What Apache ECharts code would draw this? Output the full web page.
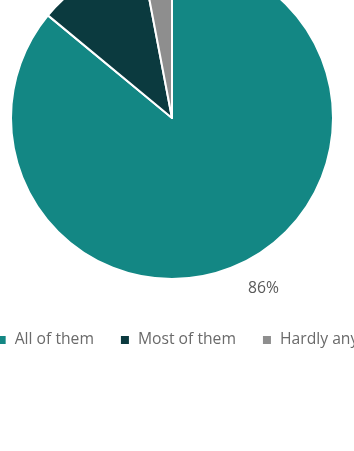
<!DOCTYPE html>
<html>
<head>
<meta charset="utf-8">
<script src="https://cdn.jsdelivr.net/npm/echarts@6/dist/echarts.min.js"></script>
<style>
  html, body { margin: 0; padding: 0; background: #ffffff; }
  #chart { width: 354px; height: 451px; }
</style>
</head>
<body>
<div id="chart"></div>
<script>
// Share of respondents by answer
const categories = ['All of them', 'Most of them', 'Hardly any'];
const shares = [86, 11, 3];
const colors = ['#138784', '#0b3a3f', '#8e8e8e'];

const chart = echarts.init(document.getElementById('chart'), null, { renderer: 'canvas' });

const pieData = categories.map((name, i) => ({
  name: name,
  value: shares[i],
  itemStyle: { color: colors[i] }
}));

chart.setOption({
  animation: false,
  textStyle: { fontFamily: 'Open Sans' },
  legend: {
    data: categories,
    left: 'center',
    top: 327,
    width: 600,
    icon: 'rect',
    itemWidth: 10,
    itemHeight: 10,
    itemGap: 25,
    textStyle: {
      fontFamily: 'Open Sans',
      fontSize: 15.7,
      color: '#6a6a6a',
      padding: [0, 0, 0, 3]
    }
  },
  series: [{
    type: 'pie',
    center: [172, 118],
    radius: [0, 161],
    startAngle: 90,
    clockwise: true,
    avoidLabelOverlap: false,
    itemStyle: { borderColor: '#ffffff', borderWidth: 2 },
    label: {
      show: true,
      position: 'outside',
      formatter: '{c}%',
      fontFamily: 'Open Sans',
      fontSize: 15.7,
      color: '#5a5a5a',
      distanceToLabelLine: -4
    },
    labelLine: { show: false, length: 27, length2: 0 },
    data: pieData
  }]
});
</script>
</body>
</html>
